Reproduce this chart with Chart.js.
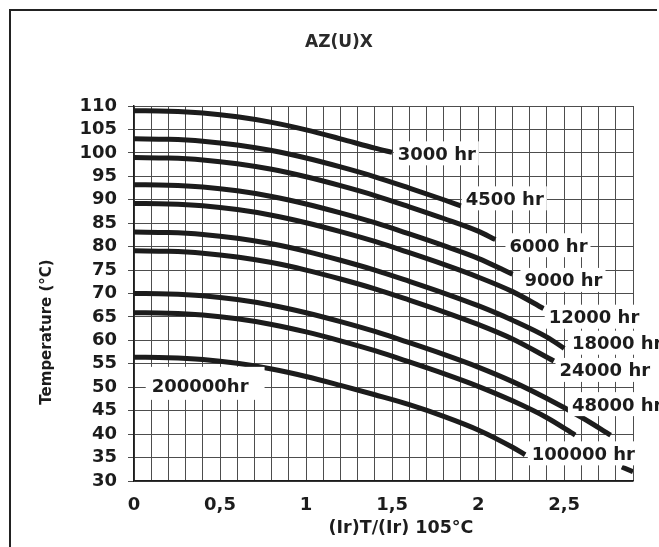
<!DOCTYPE html>
<html>
<head>
<meta charset="utf-8">
<script src="https://cdn.jsdelivr.net/npm/chart.js@4"></script>
<style>
  html, body { margin: 0; padding: 0; background: #fff; }
  #wrap { width: 659px; height: 547px; }
</style>
</head>
<body>
<div id="wrap"><canvas id="lifeChart" width="659" height="547"></canvas></div>
<script>
// tick labels
const xTickValues = [0, 0.5, 1, 1.5, 2, 2.5];
const xTickLabels = ['0', '0,5', '1', '1,5', '2', '2,5'];
const yTickValues = [30, 35, 40, 45, 50, 55, 60, 65, 70, 75, 80, 85, 90, 95, 100, 105, 110];
const yTickLabels = ['30', '35', '40', '45', '50', '55', '60', '65', '70', '75', '80', '85', '90', '95', '100', '105', '110'];

// curves: ripple ratio vs temperature (°C)
const hourLabels = ['3000 hr', '4500 hr', '6000 hr', '9000 hr', '12000 hr', '18000 hr', '24000 hr', '48000 hr', '100000 hr', '200000hr'];

const x3000 = [0, 0.2, 0.4, 0.6, 0.8, 1.0, 1.2, 1.4, 1.5];
const t3000 = [109, 108.9, 108.5, 107.7, 106.5, 104.9, 103.0, 101.0, 100.1];

const x4500 = [0, 0.2, 0.4, 0.6, 0.8, 1.0, 1.2, 1.4, 1.6, 1.8, 1.9];
const t4500 = [103, 102.9, 102.5, 101.7, 100.5, 98.9, 97.0, 94.9, 92.5, 90.0, 88.7];

const x6000 = [0, 0.2, 0.4, 0.6, 0.8, 1.0, 1.2, 1.4, 1.6, 1.8, 2.0, 2.1];
const t6000 = [99, 98.9, 98.5, 97.7, 96.5, 94.9, 93.0, 90.9, 88.5, 86.0, 83.3, 81.5];

const x9000 = [0, 0.2, 0.4, 0.6, 0.8, 1.0, 1.2, 1.4, 1.6, 1.8, 2.0, 2.2];
const t9000 = [93.2, 93.1, 92.7, 91.9, 90.7, 89.1, 87.2, 85.1, 82.7, 80.2, 77.5, 74.1];

const x12000 = [0, 0.2, 0.4, 0.6, 0.8, 1.0, 1.2, 1.4, 1.6, 1.8, 2.0, 2.2, 2.38];
const t12000 = [89.2, 89.1, 88.7, 87.9, 86.7, 85.1, 83.2, 81.1, 78.7, 76.2, 73.5, 70.4, 66.8];

const x18000 = [0, 0.2, 0.4, 0.6, 0.8, 1.0, 1.2, 1.4, 1.6, 1.8, 2.0, 2.2, 2.4, 2.5];
const t18000 = [83.1, 83.0, 82.6, 81.8, 80.6, 79.0, 77.1, 75.0, 72.6, 70.1, 67.4, 64.3, 60.7, 58.3];

const x24000 = [0, 0.2, 0.4, 0.6, 0.8, 1.0, 1.2, 1.4, 1.6, 1.8, 2.0, 2.2, 2.44];
const t24000 = [79.1, 79.0, 78.6, 77.8, 76.6, 75.0, 73.1, 71.0, 68.6, 66.1, 63.4, 60.3, 55.6];

const x48000 = [0, 0.2, 0.4, 0.6, 0.8, 1.0, 1.2, 1.4, 1.6, 1.8, 2.0, 2.2, 2.4, 2.6, 2.77];
const t48000 = [70, 69.9, 69.5, 68.7, 67.5, 65.9, 64.0, 61.9, 59.5, 57.0, 54.3, 51.2, 47.6, 43.6, 39.8];

// null = part hidden behind the label box
const x100000 = [0, 0.2, 0.4, 0.6, 0.8, 1.0, 1.2, 1.4, 1.6, 1.8, 2.0, 2.2, 2.4, 2.564, 2.7, 2.835, 2.9];
const t100000 = [65.9, 65.8, 65.4, 64.6, 63.4, 61.8, 59.9, 57.8, 55.4, 52.9, 50.2, 47.1, 43.5, 39.8, null, 33.0, 32.0];

const x200000 = [0, 0.2, 0.4, 0.6, 0.8, 1.0, 1.2, 1.4, 1.6, 1.8, 2.0, 2.2, 2.273];
const t200000 = [56.4, 56.3, 55.9, 55.1, 53.9, 52.3, 50.4, 48.4, 46.3, 43.8, 40.9, 37.2, 35.6];

const curveX = [x3000, x4500, x6000, x9000, x12000, x18000, x24000, x48000, x100000, x200000];
const curveT = [t3000, t4500, t6000, t9000, t12000, t18000, t24000, t48000, t100000, t200000];

// where each curve label sits (left edge of text, vertical centre), in axis units
const labelSpots = [
  { x: 1.533, y: 99.9 }, { x: 1.928, y: 90.3 }, { x: 2.182, y: 80.3 }, { x: 2.269, y: 72.9 },
  { x: 2.41, y: 65.05 }, { x: 2.545, y: 59.5 }, { x: 2.473, y: 53.7 }, { x: 2.545, y: 46.4 },
  { x: 2.312, y: 35.9 }, { x: 0.103, y: 50.3, padL: 6, padR: 16, padT: 12, padB: 7 }
];

const FONT = '"DejaVu Sans", "Liberation Sans", sans-serif';
const INK = '#1c1c1c';

const datasets = hourLabels.map((lab, i) => ({
  label: lab,
  data: curveX[i].map((x, j) => ({ x: x, y: curveT[i][j] })),
  borderColor: INK,
  borderWidth: 5,
  pointRadius: 0,
  fill: false,
  cubicInterpolationMode: 'monotone',
  spanGaps: false
}));

const decorPlugin = {
  id: 'decor',
  beforeDraw(chart) {
    const ctx = chart.ctx;
    ctx.save();
    ctx.fillStyle = '#fff';
    ctx.fillRect(0, 0, chart.width, chart.height);
    // frame
    ctx.strokeStyle = '#222';
    ctx.lineWidth = 2;
    ctx.beginPath();
    ctx.moveTo(10, chart.height);
    ctx.lineTo(10, 10);
    ctx.lineTo(657, 10);
    ctx.stroke();
    ctx.restore();
  },
  afterDatasetsDraw(chart) {
    const ctx = chart.ctx;
    const xs = chart.scales.x, ys = chart.scales.y;
    ctx.save();
    ctx.font = 'bold 18px ' + FONT;
    ctx.textAlign = 'left';
    ctx.textBaseline = 'alphabetic';
    hourLabels.forEach((lab, i) => {
      const s = labelSpots[i];
      const px = xs.getPixelForValue(s.x);
      const py = ys.getPixelForValue(s.y);
      const w = ctx.measureText(lab).width;
      const pl = s.padL ?? 4, pr = s.padR ?? 3, pt = s.padT ?? 5, pb = s.padB ?? 5;
      ctx.fillStyle = '#fff';
      ctx.fillRect(px - pl, py - 7 - pt, w + pl + pr, 14 + pt + pb);
      ctx.fillStyle = INK;
      ctx.fillText(lab, px, py + 6.5);
    });
    ctx.restore();
  },
  afterDraw(chart) {
    const ctx = chart.ctx;
    ctx.save();
    ctx.fillStyle = '#2a2a2a';
    ctx.textAlign = 'center';
    ctx.textBaseline = 'middle';
    ctx.font = 'bold 17px ' + FONT;
    ctx.fillText('AZ(U)X', 339, 43);
    ctx.fillStyle = INK;
    ctx.font = 'bold 17.5px ' + FONT;
    ctx.fillText('(Ir)T/(Ir) 105°C', 401, 528);
    ctx.translate(47, 332);
    ctx.rotate(-Math.PI / 2);
    ctx.font = 'bold 15px ' + FONT;
    ctx.fillText('Temperature (°C)', 0, 0);
    ctx.restore();
  }
};

new Chart(document.getElementById('lifeChart'), {
  type: 'line',
  data: { datasets },
  plugins: [decorPlugin],
  options: {
    responsive: false,
    animation: false,
    layout: { padding: { top: 106, right: 26, left: 0, bottom: 0 } },
    plugins: { legend: { display: false }, title: { display: false }, tooltip: { enabled: false } },
    scales: {
      x: {
        type: 'linear', min: 0, max: 2.9,
        afterFit(scale) { scale.height = 66; },
        border: { color: INK, width: 1.5 },
        grid: { color: '#4d4d4d', lineWidth: 1, drawTicks: false },
        ticks: {
          stepSize: 0.1, autoSkip: false, maxRotation: 0, padding: 14,
          color: INK, font: { family: FONT, size: 18, weight: 'bold' },
          callback: v => {
            const i = xTickValues.findIndex(t => Math.abs(t - v) < 1e-6);
            return i >= 0 ? xTickLabels[i] : '';
          }
        }
      },
      y: {
        type: 'linear', min: 30, max: 110,
        afterFit(scale) { scale.width = 134; },
        border: { color: INK, width: 1.5 },
        grid: { color: '#4d4d4d', lineWidth: 1, tickLength: 6 },
        ticks: {
          stepSize: 5, autoSkip: false, padding: 11,
          color: INK, font: { family: FONT, size: 18, weight: 'bold' },
          callback: v => {
            const i = yTickValues.findIndex(t => Math.abs(t - v) < 1e-6);
            return i >= 0 ? yTickLabels[i] : '';
          }
        }
      }
    }
  }
});
</script>
</body>
</html>
